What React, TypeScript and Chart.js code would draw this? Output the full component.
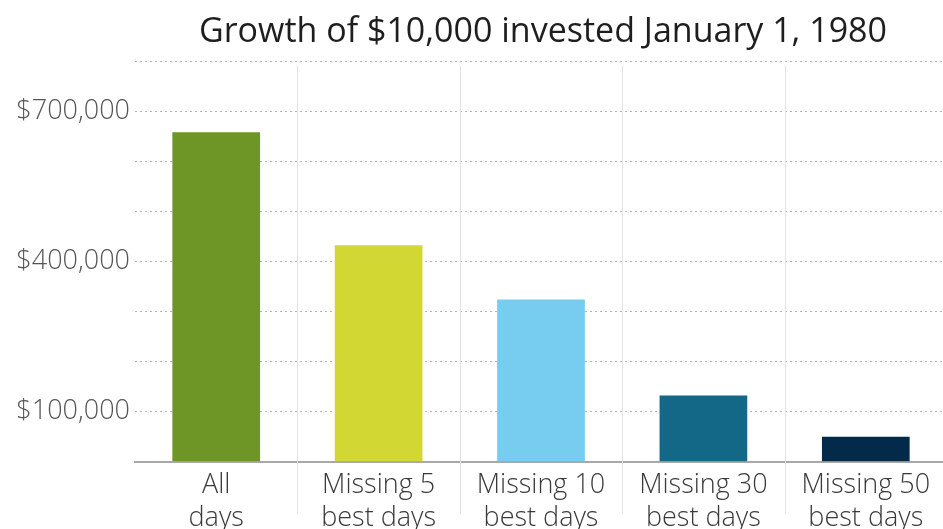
import React, { useEffect, useRef } from "react";
import { Chart, registerables } from "chart.js";

Chart.register(...registerables);

const categories: string[][] = [
  ["All", "days"],
  ["Missing 5", "best days"],
  ["Missing 10", "best days"],
  ["Missing 30", "best days"],
  ["Missing 50", "best days"],
];
const values: number[] = [658000, 432000, 324000, 132000, 50000];
const barColors: string[] = ["#6e9626", "#d2d733", "#76cdef", "#136888", "#032a49"];
const labeledTicks: number[] = [100000, 400000, 700000];
const titleText = "Growth of $10,000 invested January 1, 1980";

const separators = {
  id: "separators",
  beforeDatasetsDraw(chart: any) {
    const x = chart.scales.x;
    const area = chart.chartArea;
    const ctx = chart.ctx;
    ctx.save();
    ctx.strokeStyle = "#e2e2e2";
    ctx.lineWidth = 1;
    for (let i = 1; i < categories.length; i++) {
      const px = Math.round((x.getPixelForValue(i - 1) + x.getPixelForValue(i)) / 2) + 0.5;
      ctx.beginPath();
      ctx.moveTo(px, area.top + 5);
      ctx.lineTo(px, area.bottom + 52);
      ctx.stroke();
    }
    ctx.restore();
  },
};

const centeredTitle = {
  id: "centeredTitle",
  afterDraw(chart: any) {
    const area = chart.chartArea;
    const ctx = chart.ctx;
    ctx.save();
    ctx.fillStyle = "#1e1e1e";
    ctx.font = "400 34px 'Open Sans'";
    ctx.textAlign = "center";
    ctx.textBaseline = "middle";
    ctx.fillText(titleText, (area.left + area.right) / 2 + 2, 32);
    ctx.restore();
  },
};

export default function App() {
  const ref = useRef<HTMLCanvasElement | null>(null);
  useEffect(() => {
    document.body.style.margin = "0";
    const chart = new Chart(ref.current as HTMLCanvasElement, {
      type: "bar",
      data: {
        labels: categories,
        datasets: [
          {
            data: values,
            backgroundColor: barColors,
            barPercentage: 0.54,
            categoryPercentage: 1,
          },
        ],
      },
      plugins: [separators, centeredTitle],
      options: {
        responsive: false,
        animation: false,
        layout: { padding: { left: 0, right: 0, top: 61, bottom: 0 } },
        plugins: {
          legend: { display: false },
          tooltip: { enabled: false },
          title: { display: false },
        },
        scales: {
          x: {
            grid: { display: false },
            border: { display: true, color: "#a8a8a8", width: 2 },
            ticks: {
              color: "#3a3a3a",
              padding: 0,
              maxRotation: 0,
              autoSkip: false,
              font: { family: "Open Sans", size: 27, weight: "300" as any, lineHeight: 1.19 },
            },
          },
          y: {
            min: 0,
            max: 800000,
            afterFit: (s: any) => {
              s.width = 135;
            },
            grid: { color: "#b5b5b5", lineWidth: 1, drawTicks: false },
            border: { display: false, dash: [2, 3] },
            ticks: {
              stepSize: 100000,
              padding: 5,
              autoSkip: false,
              color: "#555555",
              font: { family: "Open Sans", size: 27, weight: "300" as any },
              callback: (v: any) =>
                labeledTicks.includes(Number(v)) ? "$" + Number(v).toLocaleString("en-US") : "",
            },
          },
        },
      },
    });
    return () => chart.destroy();
  }, []);
  return (
    <div style={{ width: 943, height: 529, overflow: "hidden" }}>
      <canvas ref={ref} width={947} height={534} style={{ display: "block" }} />
    </div>
  );
}
